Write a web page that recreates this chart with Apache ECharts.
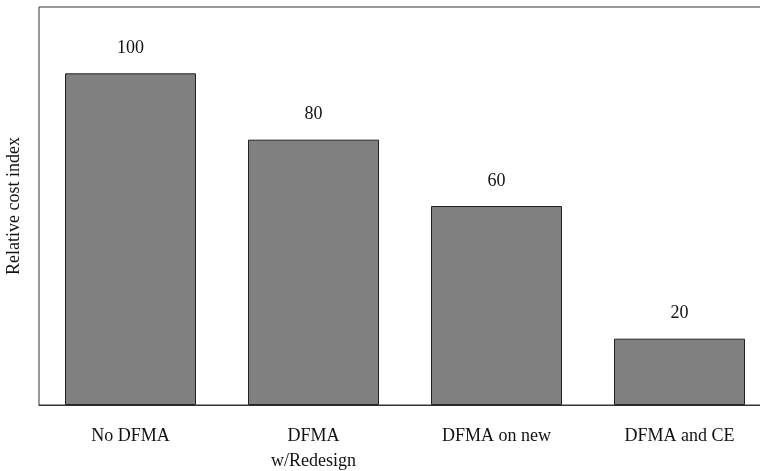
<!DOCTYPE html>
<html>
<head>
<meta charset="utf-8">
<script src="https://cdn.jsdelivr.net/npm/echarts@6/dist/echarts.min.js"></script>
<style>
  html, body { margin: 0; padding: 0; background: #fff; }
  #chart { width: 760px; height: 471px; }
</style>
</head>
<body>
<div id="chart"></div>
<script>
// data
const categories = ["No DFMA", "DFMA\nw/Redesign", "DFMA on new", "DFMA and CE"];
const costIndex = [100, 80, 60, 20];

const chart = echarts.init(document.getElementById("chart"));
const font = "'Liberation Serif', 'DejaVu Serif', serif";

chart.setOption({
  animation: false,
  grid: {
    left: 39,
    right: -11,
    top: 7,
    bottom: 66,
    show: true,
    borderColor: "#333",
    borderWidth: 1,
    containLabel: false,
    outerBoundsMode: "none",
  },
  xAxis: {
    type: "category",
    data: categories,
    axisLine: { show: true, lineStyle: { color: "#333", width: 1 } },
    axisTick: { show: false },
    axisLabel: {
      color: "#111",
      fontFamily: font,
      fontSize: 18,
      margin: 19,
      lineHeight: 25,
    },
  },
  yAxis: {
    type: "value",
    min: 0,
    max: 120,
    name: "Relative cost index",
    nameLocation: "middle",
    nameGap: 16,
    nameTextStyle: { color: "#111", fontFamily: font, fontSize: 18 },
    axisLine: { show: false },
    axisTick: { show: false },
    axisLabel: { show: false },
    splitLine: { show: false },
  },
  series: [
    {
      type: "bar",
      data: costIndex,
      barWidth: 131,
      itemStyle: { color: "#808080", borderColor: "#222", borderWidth: 1 },
      label: {
        show: true,
        position: "top",
        distance: 16,
        color: "#111",
        fontFamily: font,
        fontSize: 18,
      },
    },
  ],
});
</script>
</body>
</html>
